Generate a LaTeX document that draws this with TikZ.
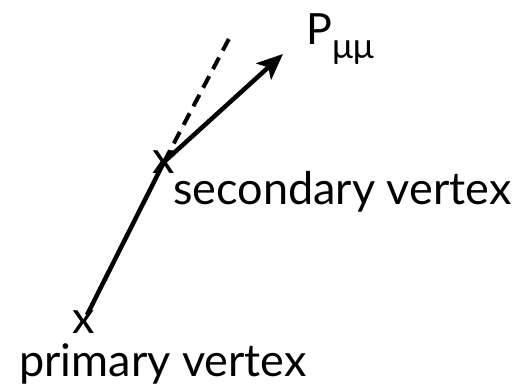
\documentclass[tikz,border=0pt]{standalone}
\usepackage{fontspec}
\setmainfont{Lato}
\usetikzlibrary{arrows.meta}

\begin{document}
\begin{tikzpicture}[x=1pt,y=1pt,
  lbl/.style={inner sep=0pt,font=\fontsize{45}{50}\selectfont},
  track/.style={line width=4.5pt}]
\useasboundingbox (0,0) rectangle (515,387);
\node[lbl] (PV) at (83.5,64.5) {x}; \node[lbl] (SV) at (164,225) {x};
\coordinate (S) at (87,72); \coordinate (T) at (283,333); \coordinate (D) at (232,354);
\draw[track] (S)--(SV.center);
\draw[track,-{Stealth[length=26pt,width=22pt,inset=6pt]}] (SV.center)--(T);
\draw[track,line width=4pt,dash pattern=on 13pt off 8pt] (SV.center)--(D);
\node[lbl,anchor=base west] (PL) at (19,10) {primary vertex};
\node[lbl,anchor=base west] (SL) at (173,182) {secondary vertex};
\node[inner sep=0pt,anchor=base west,font=\fontsize{43}{47}\selectfont] (PMM) at (306,342) {P\raisebox{-14pt}{\fontsize{35}{38}\selectfont μμ}};
\end{tikzpicture}
\end{document}
